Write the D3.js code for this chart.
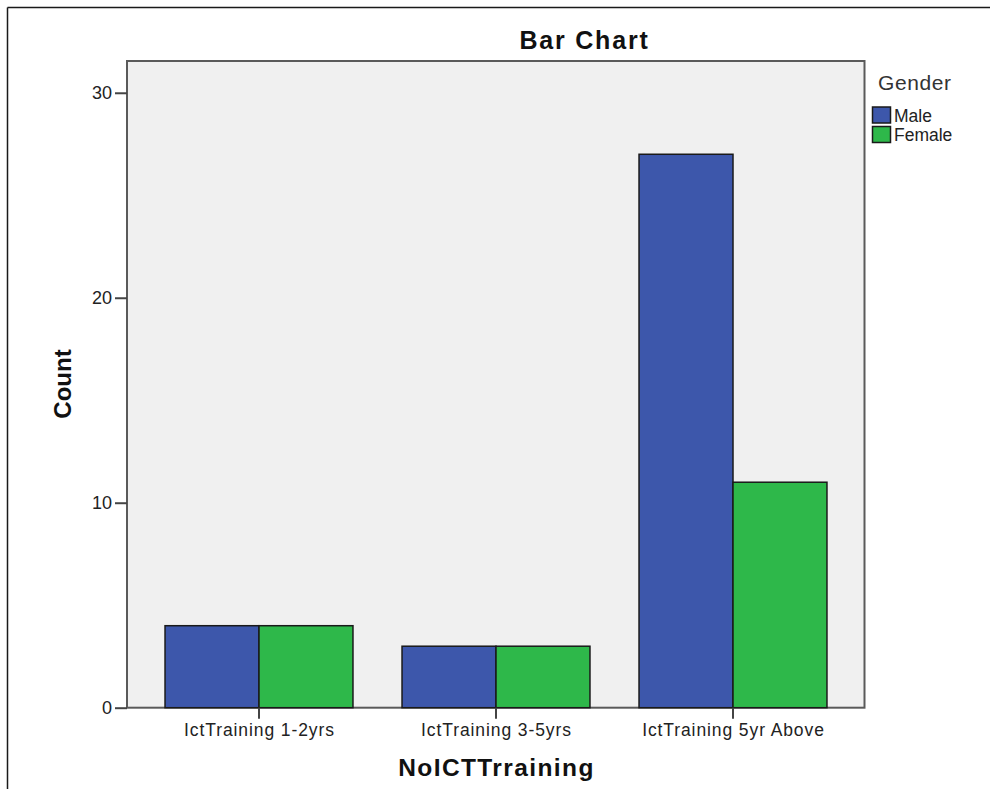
<!DOCTYPE html>
<html>
<head>
<meta charset="utf-8">
<script src="https://cdn.jsdelivr.net/npm/d3@7/dist/d3.min.js"></script>
<style>
  html, body { margin: 0; padding: 0; background: #fff; }
  svg { display: block; }
  text { font-family: "Liberation Sans", Arial, sans-serif; }
</style>
</head>
<body>
<svg id="chart" width="990" height="789"></svg>
<script>
const categories = ["IctTraining 1-2yrs", "IctTraining 3-5yrs", "IctTraining 5yr Above"];
const genders = ["Male", "Female"];
const maleCounts = [4, 3, 27];
const femaleCounts = [4, 3, 11];
const yTicks = [0, 10, 20, 30];
const colors = ["#3d57ab", "#2eb84a"];

const svg = d3.select("#chart");
const W = 990, H = 789;
const plot = { left: 127, right: 864.5, top: 61, bottom: 707.7 };

// outer frame (left and top)
svg.append("line").attr("x1", 7.5).attr("y1", 7.5).attr("x2", W).attr("y2", 7.5)
  .attr("stroke", "#1a1a1a").attr("stroke-width", 1.5);
svg.append("line").attr("x1", 7.5).attr("y1", 7.5).attr("x2", 7.5).attr("y2", H)
  .attr("stroke", "#1a1a1a").attr("stroke-width", 1.5);

const y = d3.scaleLinear().domain([0, 31.55]).range([plot.bottom, plot.top]);
const x0 = d3.scaleBand().domain(categories).range([140.5, 851.5])
  .paddingInner(0.207).paddingOuter(0.1035);
const x1 = d3.scaleBand().domain(genders).range([0, x0.bandwidth()]);

// plot background
svg.append("rect")
  .attr("x", plot.left).attr("y", plot.top)
  .attr("width", plot.right - plot.left).attr("height", plot.bottom - plot.top)
  .attr("fill", "#f0f0f0").attr("stroke", "#5a5a5a").attr("stroke-width", 2);

const rows = categories.map((c, i) => ({ cat: c, values: [maleCounts[i], femaleCounts[i]] }));

const g = svg.append("g");
rows.forEach(r => {
  r.values.forEach((v, j) => {
    g.append("rect")
      .attr("x", x0(r.cat) + x1(genders[j]))
      .attr("y", y(v))
      .attr("width", x1.bandwidth())
      .attr("height", y(0) - y(v))
      .attr("fill", colors[j])
      .attr("stroke", "#1a1a1a")
      .attr("stroke-width", 1.5);
  });
});

// Y axis
const yAxis = d3.axisLeft(y).tickValues(yTicks).tickSize(12).tickPadding(3).tickFormat(d3.format("d"));
const ya = svg.append("g").attr("transform", `translate(${plot.left},0)`).call(yAxis);
ya.select(".domain").remove();
ya.selectAll(".tick line").attr("stroke", "#444").attr("stroke-width", 2);
ya.selectAll(".tick text").attr("font-size", 18).attr("fill", "#222")
  .attr("font-family", "Liberation Sans, Arial, sans-serif");

// X axis
const xAxis = d3.axisBottom(x0).tickSize(11).tickPadding(5);
const xa = svg.append("g").attr("transform", `translate(0,${plot.bottom})`).call(xAxis);
xa.select(".domain").remove();
xa.selectAll(".tick line").attr("stroke", "#444").attr("stroke-width", 2);
xa.selectAll(".tick text").attr("font-size", 17.5).attr("fill", "#222")
  .attr("letter-spacing", "0.9px").attr("dx", "0.45px")
  .attr("font-family", "Liberation Sans, Arial, sans-serif");

// Title
svg.append("text").attr("x", 584.5).attr("y", 49).attr("text-anchor", "middle")
  .attr("font-size", 25).attr("font-weight", "bold").attr("fill", "#111")
  .attr("letter-spacing", "1.8px").text("Bar Chart");

// Axis titles
svg.append("text").attr("x", 496.5).attr("y", 776).attr("text-anchor", "middle")
  .attr("font-size", 24.5).attr("font-weight", "bold").attr("fill", "#111")
  .attr("letter-spacing", "1.4px").text("NoICTTrraining");
svg.append("text").attr("transform", "translate(71,384) rotate(-90)").attr("text-anchor", "middle")
  .attr("font-size", 24).attr("font-weight", "bold").attr("fill", "#111").text("Count");

// Legend
const lg = svg.append("g").attr("transform", "translate(872,0)");
lg.append("text").attr("x", 6).attr("y", 90).attr("font-size", 21).attr("fill", "#333")
  .attr("letter-spacing", "0.6px").text("Gender");
genders.forEach((gname, j) => {
  const yy = 107 + j * 19.5;
  lg.append("rect").attr("x", 0.5).attr("y", yy).attr("width", 18).attr("height", 16)
    .attr("fill", colors[j]).attr("stroke", "#1a1a1a").attr("stroke-width", 1.5);
  lg.append("text").attr("x", 22).attr("y", yy + 14.5).attr("font-size", 17.5)
    .attr("fill", "#222").text(gname);
});
</script>
</body>
</html>
